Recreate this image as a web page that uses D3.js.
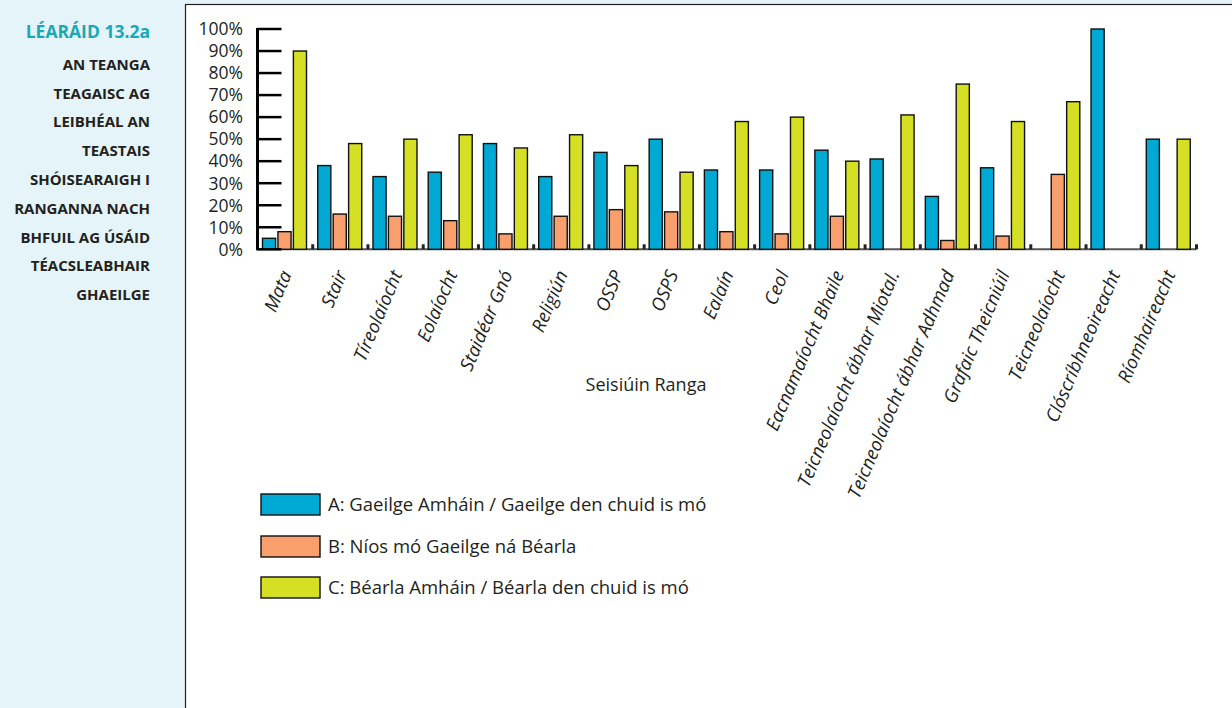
<!DOCTYPE html>
<html><head><meta charset="utf-8">
<script src="https://cdn.jsdelivr.net/npm/d3@7"></script>
<style>
html,body{margin:0;padding:0;background:#fff;}
svg{display:block;font-family:"Open Sans","Noto Sans",sans-serif;}
</style></head>
<body>
<svg id="chart" width="1232" height="708"></svg>
<script>
const categories = ["Mata","Stair","Tíreolaíocht","Eolaíocht","Staidéar Gnó","Religiún","OSSP","OSPS","Ealaín","Ceol","Eacnamaíocht Bhaile","Teicneolaíocht ábhar Miotal.","Teicneolaíocht ábhar Adhmad","Grafaic Theicniúil","Teicneolaíocht","Clóscríbhneoireacht","Ríomhaireacht"];
const seriesA = [5,38,33,35,48,33,44,50,36,36,45,41,24,37,0,100,50];
const seriesB = [8,16,15,13,7,15,18,17,8,7,15,0,4,6,34,0,0];
const seriesC = [90,48,50,52,46,52,38,35,58,60,40,61,75,58,67,0,50];
const seriesNames = ["A: Gaeilge Amháin / Gaeilge den chuid is mó","B: Níos mó Gaeilge ná Béarla","C: Béarla Amháin / Béarla den chuid is mó"];
const seriesColors = ["#00a9d3","#f89f6d","#d5df23"];
const yTicks = [0,10,20,30,40,50,60,70,80,90,100];
const titleText = "LÉARÁID 13.2a";
const captionLines = ["AN TEANGA","TEAGAISC AG","LEIBHÉAL AN","TEASTAIS","SHÓISEARAIGH I","RANGANNA NACH","BHFUIL AG ÚSÁID","TÉACSLEABHAIR","GHAEILGE"];
const xTitle = "Seisiúin Ranga";

const svg = d3.select("#chart");
const textColor = "#231f20";

// side panel
svg.append("rect").attr("x",0).attr("y",0).attr("width",1232).attr("height",708).attr("fill","#e5f4f8");
svg.append("rect").attr("x",185.5).attr("y",4.5).attr("width",1050).attr("height",710).attr("fill","#fff").attr("stroke","#231f20").attr("stroke-width",1.2);

svg.append("text").attr("x",150).attr("y",38).attr("text-anchor","end")
  .attr("font-size",17.5).attr("font-weight","bold").attr("fill","#1aa8b7").text(titleText);
svg.selectAll("text.cap").data(captionLines).join("text").attr("class","cap")
  .attr("x",150).attr("y",(d,i)=>64.5+i*28.8).attr("dy","0.35em").attr("text-anchor","end")
  .attr("font-size",15).attr("font-weight","bold").attr("fill",textColor).text(d=>d);

// scales
const x0 = 257.5, x1 = 1196.5, yBase = 249.3, yTop = 29;
const x = d3.scaleBand().domain(categories).range([x0,x1]).paddingInner(0).paddingOuter(0);
const keys = ["A","B","C"];
const xi = d3.scaleBand().domain(keys).range([5,49]).paddingInner(0.15);
const y = d3.scaleLinear().domain([0,100]).range([yBase,yTop]);
const color = d3.scaleOrdinal().domain(keys).range(seriesColors);

const rows = categories.map((c,i)=>({cat:c, A:seriesA[i], B:seriesB[i], C:seriesC[i]}));

// baseline
svg.append("line").attr("x1",x0).attr("x2",x1).attr("y1",yBase).attr("y2",yBase)
  .attr("stroke","#555").attr("stroke-width",2);

// bars
const g = svg.append("g");
g.selectAll("g.grp").data(rows).join("g").attr("class","grp")
  .attr("transform",d=>`translate(${x(d.cat)},0)`)
  .selectAll("rect").data(d=>keys.map(k=>({k, v:d[k]})).filter(e=>e.v>0)).join("rect")
  .attr("x",e=>xi(e.k)).attr("width",xi.bandwidth())
  .attr("y",e=>y(e.v)).attr("height",e=>yBase-y(e.v))
  .attr("fill",e=>color(e.k)).attr("stroke","#111").attr("stroke-width",1.4);

// category separator ticks
const seps = categories.map(c=>x(c)+x.bandwidth());
svg.selectAll("rect.sep").data(seps).join("rect").attr("class","sep")
  .attr("x",d=>d-1.5).attr("y",yBase-5).attr("width",3).attr("height",5).attr("fill","#222");

// y axis
svg.append("line").attr("x1",x0).attr("x2",x0).attr("y1",yTop-1).attr("y2",yBase+1)
  .attr("stroke","#000").attr("stroke-width",3);
svg.selectAll("line.yt").data(yTicks).join("line").attr("class","yt")
  .attr("x1",x0).attr("x2",x0+24).attr("y1",d=>y(d)).attr("y2",d=>y(d))
  .attr("stroke","#000").attr("stroke-width",2.5);
svg.selectAll("text.yl").data(yTicks).join("text").attr("class","yl")
  .attr("x",243).attr("y",d=>y(d)).attr("dy","0.36em").attr("text-anchor","end")
  .attr("font-size",17.5).attr("fill",textColor).text(d=>d+"%");

// x labels
svg.selectAll("text.xl").data(categories).join("text").attr("class","xl")
  .attr("transform",d=>`translate(${x(d)+x.bandwidth()/2+7},274) rotate(-67)`)
  .attr("text-anchor","end").attr("font-size",18.5).attr("font-style","italic")
  .attr("fill",textColor).text(d=>d);

svg.append("text").attr("x",646).attr("y",385).attr("dy","0.35em").attr("text-anchor","middle")
  .attr("font-size",18).attr("fill",textColor).text(xTitle);

// legend
const legY = [494,536,577];
const lg = svg.selectAll("g.leg").data(keys).join("g").attr("class","leg")
  .attr("transform",(d,i)=>`translate(261,${legY[i]})`);
lg.append("rect").attr("width",59).attr("height",21).attr("fill",d=>color(d)).attr("stroke","#111").attr("stroke-width",1.4);
lg.append("text").attr("x",67).attr("y",11).attr("dy","0.35em").attr("font-size",18.5)
  .attr("fill",textColor).text((d,i)=>seriesNames[i]);
</script>
</body></html>
